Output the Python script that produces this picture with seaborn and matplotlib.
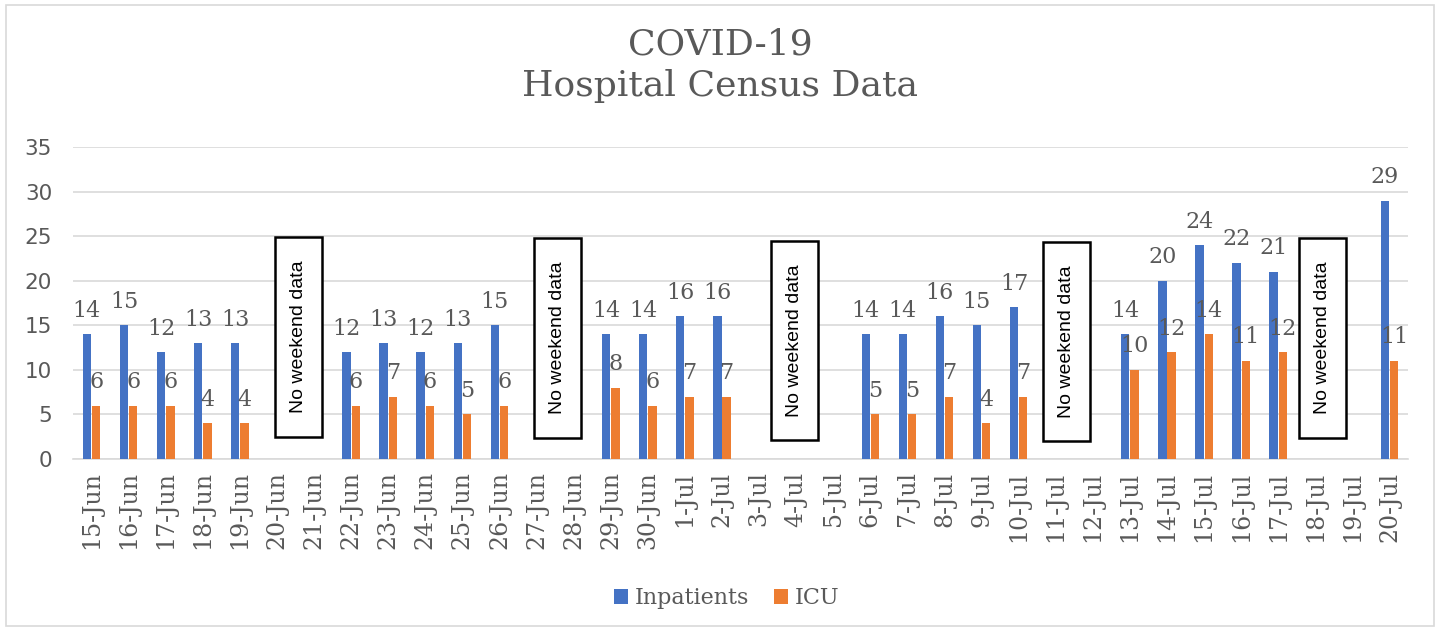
import numpy as np
import pandas as pd
import seaborn as sns
import matplotlib.pyplot as plt
from matplotlib.patches import Rectangle

# Data (None = weekend, no data)
dates = ['15-Jun', '16-Jun', '17-Jun', '18-Jun', '19-Jun', '20-Jun', '21-Jun',
         '22-Jun', '23-Jun', '24-Jun', '25-Jun', '26-Jun', '27-Jun', '28-Jun',
         '29-Jun', '30-Jun', '1-Jul', '2-Jul', '3-Jul', '4-Jul', '5-Jul',
         '6-Jul', '7-Jul', '8-Jul', '9-Jul', '10-Jul', '11-Jul', '12-Jul',
         '13-Jul', '14-Jul', '15-Jul', '16-Jul', '17-Jul', '18-Jul', '19-Jul',
         '20-Jul']
inpatients = [14, 15, 12, 13, 13, None, None,
              12, 13, 12, 13, 15, None, None,
              14, 14, 16, 16, None, None, None,
              14, 14, 16, 15, 17, None, None,
              14, 20, 24, 22, 21, None, None,
              29]
icu = [6, 6, 6, 4, 4, None, None,
       6, 7, 6, 5, 6, None, None,
       8, 6, 7, 7, None, None, None,
       5, 5, 7, 4, 7, None, None,
       10, 12, 14, 11, 12, None, None,
       11]

df = pd.DataFrame({'date': dates, 'Inpatients': inpatients, 'ICU': icu})
df_long = df.melt(id_vars='date', var_name='series', value_name='count').dropna()

blue = '#4472C4'
orange = '#ED7D31'
grey = '#595959'

sns.set_theme(style='white')
plt.rcParams['font.family'] = ['DejaVu Serif']

fig = plt.figure(figsize=(14.4, 6.31), dpi=100)
ax = fig.add_axes([0.0507, 0.2726, 0.9271, 0.4944])

sns.barplot(data=df_long, x='date', y='count', hue='series', order=dates,
            hue_order=['Inpatients', 'ICU'], palette=[blue, orange],
            saturation=1, linewidth=0, width=0.5, gap=0.1, errorbar=None,
            ax=ax, zorder=3)

for cont in ax.containers:
    ax.bar_label(cont, fmt='%d', padding=9, fontsize=16, color=grey)

ax.set_ylim(0, 35)
ax.set_xlim(-0.5, len(dates) - 0.5)
ax.set_yticks(range(0, 36, 5))
ax.yaxis.grid(True, color='#d9d9d9', linewidth=1.2, zorder=0)
ax.set_xlabel('')
ax.set_ylabel('')
for s in ['top', 'right', 'left']:
    ax.spines[s].set_visible(False)
ax.spines['bottom'].set_color('#d9d9d9')
ax.spines['bottom'].set_linewidth(1.2)

ax.tick_params(axis='y', length=0, pad=15)
for lab in ax.get_yticklabels():
    lab.set_family('DejaVu Sans')
    lab.set_fontsize(15.5)
    lab.set_color(grey)
ax.set_xticks(range(len(dates)))
ax.set_xticklabels(dates, rotation=90, fontsize=17, color=grey)
ax.tick_params(axis='x', length=0, pad=9)
# tick marks between categories
ax.set_xticks(np.arange(-0.5, len(dates)), minor=True)
ax.tick_params(axis='x', which='minor', length=6, color='#d9d9d9', width=1.2)

# "No weekend data" boxes
boxes = [(5.58, 2.47), (12.56, 2.4), (18.95, 2.1), (26.3, 2.0), (33.2, 2.4)]
bw, bh = 1.27, 22.4
for cx, y0 in boxes:
    ax.add_patch(Rectangle((cx - bw / 2, y0), bw, bh, facecolor='white',
                           edgecolor='black', linewidth=1.8, zorder=5))
    ax.text(cx, y0 + bh / 2, 'No weekend data', rotation=90, ha='center',
            va='center', fontsize=14, family='Liberation Sans', color='black',
            zorder=6)

handles, labels = ax.get_legend_handles_labels()
ax.get_legend().remove()
leg = fig.legend(handles, labels, loc='center', bbox_to_anchor=(0.5045, 0.052),
                 ncol=2, frameon=False, fontsize=16, handlelength=0.65,
                 handleheight=0.65, handletextpad=0.3, columnspacing=1.1)
for t in leg.get_texts():
    t.set_color(grey)

fig.text(0.5, 0.913, 'COVID-19', ha='center', va='baseline', fontsize=26, color=grey)
fig.text(0.5, 0.848, 'Hospital Census Data', ha='center', va='baseline',
         fontsize=26, color=grey)

fig.patches.append(Rectangle((0.004, 0.008), 0.992, 0.984, transform=fig.transFigure,
                             fill=False, edgecolor='#d9d9d9', linewidth=1.2))

fig.savefig('out.png', dpi=100)
